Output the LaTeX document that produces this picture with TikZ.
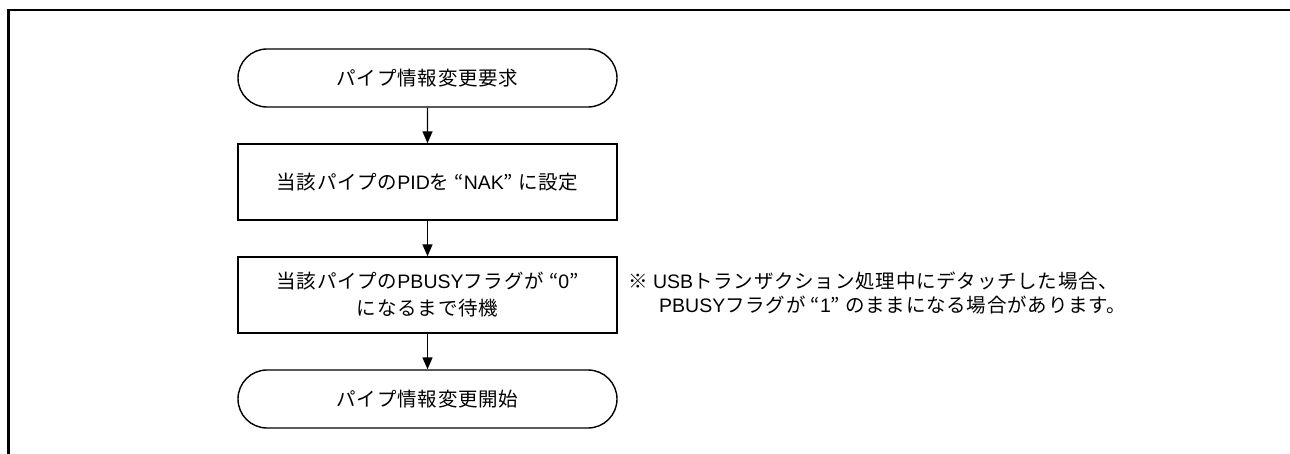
\documentclass[tikz,border=0pt]{standalone}
\usepackage{fontspec}
\setmainfont{Liberation Sans}
\newfontfamily\jp[LetterSpace=4]{Noto Sans CJK JP}
\newcommand{\J}[1]{{\jp #1}}
\usetikzlibrary{shapes.misc,arrows.meta}
\begin{document}
\begin{tikzpicture}[x=1pt,y=-1pt,
  term/.style={draw,line width=1.4pt,rounded rectangle,minimum width=379pt,minimum height=58pt,inner sep=0pt},
  proc/.style={draw,line width=1.4pt,rectangle,minimum width=379pt,minimum height=76pt,inner sep=0pt,align=center},
  flow/.style={line width=1.4pt,-{Triangle[length=12pt,width=10pt]}},
  txt/.style={font=\fontsize{19.5pt}{27pt}\selectfont},
  note/.style={font=\fontsize{19.5pt}{24pt}\selectfont,anchor=west,inner sep=0pt}]
\useasboundingbox (0,0) rectangle (1290,454);
\fill[white] (0,0) rectangle (1290,454);
\draw[line width=2.8pt] (8.5,454) -- (8.5,10) -- (1290,10);
\node[term,txt] (t1) at (427.5,78) {\J{パイプ情報変更要求}};
\node[proc,txt] (b2) at (427.5,182) {\J{当該パイプの}PID\J{を “}NAK\J{” に設定}};
\node[proc,txt] (b3) at (427.5,295) {\J{当該パイプの}PBUSY\J{フラグが “}0\J{”}\\\J{になるまで待機}};
\node[term,txt] (t2) at (427.5,399) {\J{パイプ情報変更開始}};
\draw[flow] (t1) -- (b2);
\draw[flow] (b2) -- (b3);
\draw[flow] (b3) -- (t2);
\node[note] (n1) at (628,281) {\J{※} USB\J{トランザクション処理中にデタッチした場合、}};
\node[note] (n2) at (659,305) {PBUSY\J{フラグが “}1\J{” のままになる場合があります。}};
\end{tikzpicture}
\end{document}
